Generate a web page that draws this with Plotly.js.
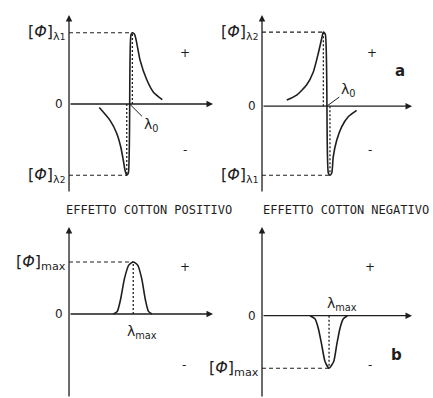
<!DOCTYPE html>
<html>
<head>
<meta charset="utf-8">
<script src="https://cdn.plot.ly/plotly-3.0.1.min.js"></script>
<style>
    body { margin: 0; background: #fff; }
    #chart { width: 433px; height: 398px; }
</style>
</head>
<body>
<div id="chart"></div>
<script>
// (a) ORD curves, (b) CD bands - arbitrary units, peak height ~ 1
const ordPosX = [2.10, 2.85, 3.31, 3.59, 3.77, 3.89, 4.01, 4.12, 4.30, 4.40, 4.55, 4.68, 4.93, 5.40, 5.85, 6.48];
const ordPosY = [-0.05, -0.23, -0.41, -0.60, -0.79, -0.93, -1.00, -0.97, 0.97, 1.00, 0.98, 0.88, 0.62, 0.34, 0.17, 0.06];

const ordNegX = [1.65, 2.31, 2.98, 3.42, 3.75, 3.98, 4.09, 4.22, 4.42, 4.53, 4.65, 4.75, 4.98, 5.31, 5.75, 6.31];
const ordNegY = [0.085, 0.155, 0.30, 0.48, 0.74, 0.95, 1.04, 1.01, -0.94, -0.97, -0.94, -0.71, -0.48, -0.29, -0.15, -0.06];

const cdPosX = [3.08, 3.35, 3.58, 3.85, 4.15, 4.46, 4.77, 5.05, 5.30, 5.52, 5.76];
const cdPosY = [0, 0.05, 0.28, 0.68, 0.94, 1.00, 0.94, 0.68, 0.28, 0.05, 0];

const cdNegX = [3.20, 3.53, 3.75, 3.98, 4.20, 4.47, 4.78, 4.98, 5.20, 5.42, 5.69];
const cdNegY = [0, -0.06, -0.24, -0.56, -0.88, -1.01, -0.88, -0.56, -0.24, -0.06, 0];

const titles = ['EFFETTO COTTON POSITIVO', 'EFFETTO COTTON NEGATIVO'];

const INK = '#1e1e1e';
const LABEL_FONT = 'DejaVu Sans, sans-serif';

// axis domains and ranges per panel
const panels = [
    { ax: '', x: [0.1594, 0.4919], y: [0.5151, 0.9623], yr: [-1.25, 1.25] },
    { ax: '2', x: [0.6051, 0.9515], y: [0.5151, 0.9623], yr: [-1.22, 1.28] },
    { ax: '3', x: [0.1594, 0.4919], y: [0, 0.4296], yr: [-1.615, 1.673] },
    { ax: '4', x: [0.6051, 0.9515], y: [0, 0.4296], yr: [-1.583, 1.706] }
];

function argMax(arr) { return arr.indexOf(Math.max(...arr)); }
function argMin(arr) { return arr.indexOf(Math.min(...arr)); }

function zeroCross(xs, ys) {
    for (let i = 1; i < ys.length; i++) {
        if (ys[i - 1] * ys[i] < 0) {
            const t = ys[i - 1] / (ys[i - 1] - ys[i]);
            return xs[i - 1] + t * (xs[i] - xs[i - 1]);
        }
    }
    return xs[0];
}

function curve(xs, ys, ax) {
    return {
        x: xs, y: ys, xaxis: 'x' + ax, yaxis: 'y' + ax,
        type: 'scatter', mode: 'lines', hoverinfo: 'skip', cliponaxis: false,
        line: { color: INK, width: 1.6, shape: 'spline', smoothing: 0.6 }
    };
}

// dashed line from the y axis to the extreme point, dotted line down to zero
function guides(xs, ys, idx, ax) {
    return [
        {
            x: [0, xs[idx]], y: [ys[idx], ys[idx]], xaxis: 'x' + ax, yaxis: 'y' + ax,
            type: 'scatter', mode: 'lines', hoverinfo: 'skip',
            line: { color: INK, width: 1.1, dash: '4px,3px' }
        },
        {
            x: [xs[idx], xs[idx]], y: [0, ys[idx]], xaxis: 'x' + ax, yaxis: 'y' + ax,
            type: 'scatter', mode: 'lines', hoverinfo: 'skip',
            line: { color: INK, width: 1.3, dash: '2px,2px' }
        }
    ];
}

function axisArrows(p) {
    const ref = { xref: 'x' + p.ax, yref: 'y' + p.ax, axref: 'x' + p.ax, ayref: 'y' + p.ax };
    const style = { showarrow: true, text: '', arrowhead: 2, arrowsize: 1, arrowwidth: 1.3, arrowcolor: INK, standoff: 0 };
    return [
        Object.assign({ x: 0, y: p.yr[1], ax: 0, ay: p.yr[0] }, ref, style),
        Object.assign({ x: 10, y: 0, ax: 0, ay: 0 }, ref, style)
    ];
}

function label(ax, x, y, text, size, extra) {
    return Object.assign({
        xref: 'x' + ax, yref: 'y' + ax, x: x, y: y, text: text, showarrow: false,
        xanchor: 'center', yanchor: 'middle',
        font: { family: LABEL_FONT, size: size, color: INK }
    }, extra || {});
}

// labels left of the y axis (outside the x range, so placed in paper units)
function leftLabel(p, y, text, size, gap) {
    return {
        xref: 'paper', yref: 'y' + p.ax, x: p.x[0] - gap / 433, y: y, text: text, showarrow: false,
        xanchor: 'right', yanchor: 'middle',
        font: { family: LABEL_FONT, size: size, color: INK }
    };
}

function lambdaZero(ax, xs, ys, tx, ty) {
    return {
        xref: 'x' + ax, yref: 'y' + ax, axref: 'x' + ax, ayref: 'y' + ax,
        x: zeroCross(xs, ys), y: 0, ax: tx, ay: ty,
        text: 'λ<sub>0</sub>', showarrow: true, arrowhead: 0, arrowwidth: 1, arrowcolor: INK,
        font: { family: LABEL_FONT, size: 14, color: INK }
    };
}

const phi = '[<i>Φ</i>]';
const lam = n => '<sub>λ<span style="font-size:9px">' + n + '</span></sub>';
const [p1, p2, p3, p4] = panels;

const traces = [
    curve(ordPosX, ordPosY, ''),
    ...guides(ordPosX, ordPosY, argMax(ordPosY), ''),
    ...guides(ordPosX, ordPosY, argMin(ordPosY), ''),
    curve(ordNegX, ordNegY, '2'),
    ...guides(ordNegX, ordNegY, argMax(ordNegY), '2'),
    ...guides(ordNegX, ordNegY, argMin(ordNegY), '2'),
    curve(cdPosX, cdPosY, '3'),
    ...guides(cdPosX, cdPosY, argMax(cdPosY), '3'),
    curve(cdNegX, cdNegY, '4'),
    ...guides(cdNegX, cdNegY, argMin(cdNegY), '4')
];

let annotations = [];
panels.forEach(p => { annotations = annotations.concat(axisArrows(p)); });

annotations.push(
    // panel a, left
    leftLabel(p1, ordPosY[argMax(ordPosY)], phi + lam(1), 16, 2),
    leftLabel(p1, ordPosY[argMin(ordPosY)], phi + lam(2), 16, 2),
    leftLabel(p1, 0, '0', 12, 4),
    lambdaZero('', ordPosX, ordPosY, 5.7, -0.30),
    label('', 8.06, 0.72, '+', 12),
    label('', 8.06, -0.65, '-', 12),
    // panel a, right
    leftLabel(p2, ordNegY[argMax(ordNegY)], phi + lam(2), 16, 2),
    leftLabel(p2, ordNegY[argMin(ordNegY)], phi + lam(1), 16, 2),
    leftLabel(p2, 0, '0', 12, 4),
    lambdaZero('2', ordNegX, ordNegY, 5.75, 0.22),
    label('2', 7.33, 0.74, '+', 12),
    label('2', 7.2, -0.62, '-', 12),
    label('2', 9.2, 0.5, '<b>a</b>', 15),
    // panel b, left
    leftLabel(p3, cdPosY[argMax(cdPosY)], phi + '<sub>max</sub>', 16, 1),
    leftLabel(p3, 0, '0', 12, 4),
    label('3', 5.05, -0.34, 'λ<sub>max</sub>', 14),
    label('3', 8.06, 0.9, '+', 12),
    label('3', 7.99, -0.98, '-', 12),
    // panel b, right
    leftLabel(p4, cdNegY[argMin(cdNegY)], phi + '<sub>max</sub>', 16, 1),
    leftLabel(p4, 0, '0', 12, 4),
    label('4', 5.3, 0.22, 'λ<sub>max</sub>', 14),
    label('4', 7.2, 0.94, '+', 12),
    label('4', 7.2, -0.95, '-', 12),
    label('4', 9.0, -0.75, '<b>b</b>', 15)
);

[0.343, 0.799].forEach((cx, i) => {
    annotations.push({
        xref: 'paper', yref: 'paper', x: cx, y: 0.472, text: titles[i], showarrow: false,
        xanchor: 'center', yanchor: 'middle',
        font: { family: 'DejaVu Sans Mono, monospace', size: 12, color: INK }
    });
});

const layout = {
    width: 433,
    height: 398,
    margin: { l: 0, r: 0, t: 0, b: 0 },
    paper_bgcolor: 'white',
    plot_bgcolor: 'white',
    showlegend: false,
    annotations: annotations
};

panels.forEach(p => {
    layout['xaxis' + p.ax] = { domain: p.x, range: [0, 10], visible: false, fixedrange: true, anchor: 'y' + p.ax };
    layout['yaxis' + p.ax] = { domain: p.y, range: p.yr, visible: false, fixedrange: true, anchor: 'x' + p.ax };
});

Plotly.newPlot('chart', traces, layout, { displayModeBar: false, staticPlot: true });
</script>
</body>
</html>
